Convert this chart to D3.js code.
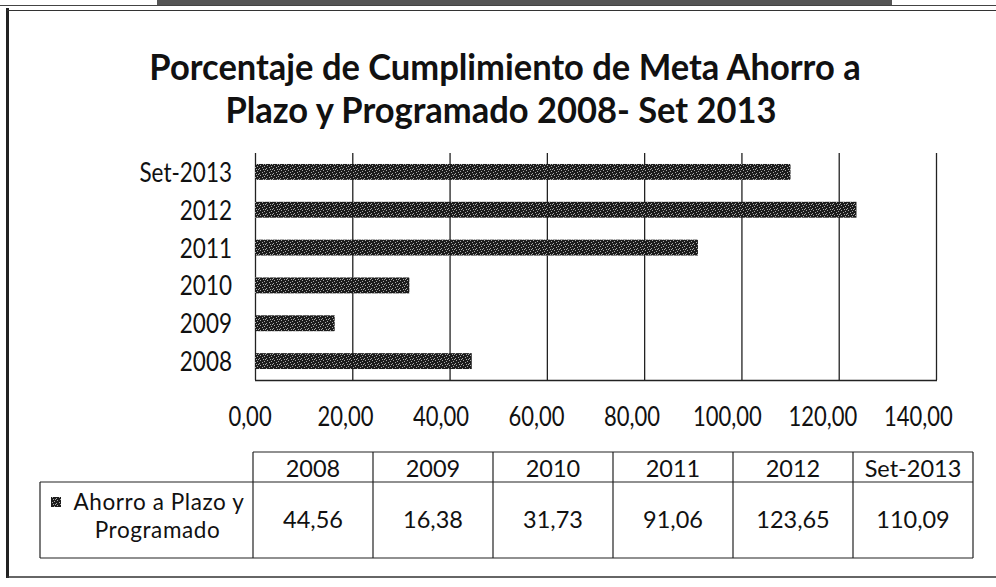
<!DOCTYPE html>
<html>
<head>
<meta charset="utf-8">
<script src="https://cdn.jsdelivr.net/npm/d3@7/dist/d3.min.js"></script>
<style>
html,body{margin:0;padding:0;background:#fff;}
svg{display:block;}
text{font-family:Lato,"Open Sans",sans-serif;fill:#111;}
</style>
</head>
<body>
<svg id="chart" width="996" height="587"></svg>
<script>
const categories = ["2008","2009","2010","2011","2012","Set-2013"];
const values = [44.56, 16.38, 31.73, 91.06, 123.65, 110.09];
const seriesName = ["Ahorro a Plazo y", "Programado"];
const xTicks = [0,20,40,60,80,100,120,140];
const titleLines = ["Porcentaje de Cumplimiento de Meta Ahorro a", "Plazo y Programado 2008- Set 2013"];

const locale = d3.formatLocale({decimal:",", thousands:".", grouping:[3], currency:["",""]});
const fmt = locale.format(".2f");

const svg = d3.select("#chart");

// pattern for scanned dark bars
const defs = svg.append("defs");
const pat = defs.append("pattern").attr("id","barpat").attr("width",7).attr("height",5).attr("patternUnits","userSpaceOnUse");
pat.append("rect").attr("width",7).attr("height",5).attr("fill","#1c1c1c");
[[1,0],[5,1],[3,2],[0,3],[6,4],[4,4]].forEach(([a,b])=>pat.append("rect").attr("x",a).attr("y",b).attr("width",1).attr("height",1).attr("fill","#a8a8a8"));

// scan artifacts: top band
svg.append("rect").attr("x",157).attr("y",0).attr("width",735).attr("height",5).attr("fill","#555");
svg.append("line").attr("x1",0).attr("x2",996).attr("y1",5.5).attr("y2",5.5).attr("stroke","#444").attr("stroke-width",1);

// outer frame
svg.append("line").attr("x1",7.5).attr("x2",7.5).attr("y1",8).attr("y2",578).attr("stroke","#222").attr("stroke-width",3);
svg.append("line").attr("x1",7).attr("x2",996).attr("y1",10.5).attr("y2",10.5).attr("stroke","#333").attr("stroke-width",1);
svg.append("line").attr("x1",7).attr("x2",996).attr("y1",577).attr("y2",577).attr("stroke","#333").attr("stroke-width",1.5);

// title
svg.append("g").selectAll("text").data(titleLines).join("text")
  .attr("transform",(d,i)=>`translate(${i===0?505:501},${80+i*43}) scale(1,1.04)`)
  .attr("text-anchor","middle").attr("font-size",34.5).attr("font-weight","bold")
  .text(d=>d);

const plot = {x0:255, x1:936, y0:153, y1:380};
const x = d3.scaleLinear().domain([0,140]).range([plot.x0, plot.x1]);
const y = d3.scaleBand().domain(categories.slice().reverse()).range([plot.y0, plot.y1]).paddingInner(0.58).paddingOuter(0.29);

// gridlines
svg.append("g").selectAll("line").data(xTicks).join("line")
  .attr("x1",d=>x(d)+0.5).attr("x2",d=>x(d)+0.5).attr("y1",plot.y0).attr("y2",plot.y1)
  .attr("stroke","#222").attr("stroke-width",1.3);
svg.append("line").attr("x1",plot.x0).attr("x2",plot.x1+1).attr("y1",plot.y1+0.5).attr("y2",plot.y1+0.5).attr("stroke","#222").attr("stroke-width",1.3);

// bars
svg.append("g").selectAll("rect").data(categories).join("rect")
  .attr("x",x(0)).attr("y",d=>y(d)).attr("height",y.bandwidth())
  .attr("width",(d,i)=>x(values[i])-x(0)).attr("fill","url(#barpat)");

// y labels
svg.append("g").selectAll("text").data(categories).join("text")
  .attr("transform",d=>`translate(232,${y(d)+y.bandwidth()/2+10}) scale(1,1.22)`)
  .attr("text-anchor","end").attr("font-size",22.5).text(d=>d);

// x tick labels
svg.append("g").selectAll("text").data(xTicks).join("text")
  .attr("transform",d=>`translate(${x(d)-5-d*0.09},426) scale(1,1.2)`)
  .attr("text-anchor","middle").attr("font-size",22).text(d=>fmt(d));

// data table
const cols = d3.scaleBand().domain(categories).range([253,973]);
const tbl = {h0:452, h1:482, r1:558, legendX:40};
const tg = svg.append("g").attr("stroke","#222").attr("stroke-width",1.2).attr("fill","none");
tg.append("line").attr("x1",253).attr("x2",973).attr("y1",tbl.h0).attr("y2",tbl.h0);
tg.append("line").attr("x1",tbl.legendX).attr("x2",973).attr("y1",tbl.h1).attr("y2",tbl.h1);
tg.append("line").attr("x1",tbl.legendX).attr("x2",973).attr("y1",tbl.r1).attr("y2",tbl.r1);
tg.append("line").attr("x1",tbl.legendX).attr("x2",tbl.legendX).attr("y1",tbl.h1).attr("y2",tbl.r1);
tg.selectAll("line.v").data(categories).join("line").attr("class","v")
  .attr("x1",d=>cols(d)).attr("x2",d=>cols(d)).attr("y1",tbl.h0).attr("y2",tbl.r1);
tg.append("line").attr("x1",973).attr("x2",973).attr("y1",tbl.h0).attr("y2",tbl.r1);

svg.append("g").selectAll("text").data(categories).join("text")
  .attr("x",d=>cols(d)+cols.bandwidth()/2).attr("y",477)
  .attr("text-anchor","middle").attr("font-size",23.5).text(d=>d);
svg.append("g").selectAll("text").data(categories).join("text")
  .attr("x",d=>cols(d)+cols.bandwidth()/2).attr("y",528)
  .attr("text-anchor","middle").attr("font-size",23.5).text((d,i)=>fmt(values[i]));

// legend key
svg.append("rect").attr("x",51).attr("y",497).attr("width",10).attr("height",10).attr("fill","url(#barpat)");
svg.append("g").selectAll("text").data(seriesName).join("text")
  .attr("x",(d,i)=> i===0?159:157.5).attr("y",(d,i)=>510+i*28)
  .attr("text-anchor","middle").attr("font-size",22.5).attr("letter-spacing",0.6).text(d=>d);
</script>
</body>
</html>
